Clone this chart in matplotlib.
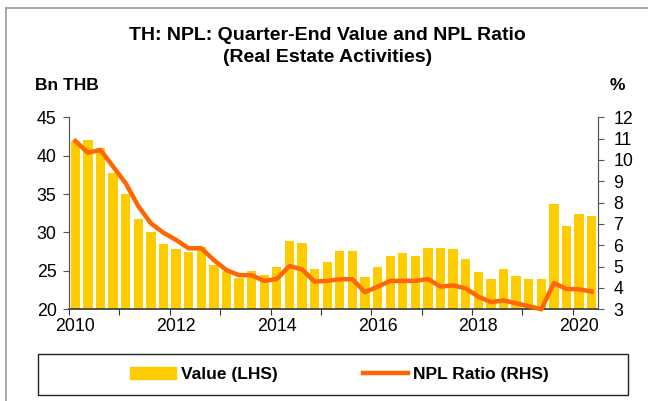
import numpy as np
import matplotlib
matplotlib.use('Agg')
import matplotlib.pyplot as plt
from matplotlib.lines import Line2D
from matplotlib.patches import Rectangle

plt.rcParams['font.family'] = ['Liberation Sans', 'DejaVu Sans']

# quarterly data 2010Q1 - 2020Q2
value = [41.9, 42.1, 41.0, 37.8, 35.0, 31.8, 30.0, 28.5, 27.8, 27.5, 28.1, 25.8,
         25.0, 24.1, 25.0, 24.5, 25.5, 28.9, 28.6, 25.25, 26.1, 27.6, 27.6, 24.2,
         25.5, 26.9, 27.3, 27.0, 28.0, 28.0, 27.8, 26.6, 24.9, 23.9, 25.2, 24.4,
         23.9, 24.0, 33.7, 30.9, 32.4, 32.1]
npl_ratio = [10.89, 10.34, 10.47, 9.69, 8.91, 7.84, 7.03, 6.59, 6.25, 5.86, 5.86, 5.31,
             4.84, 4.6, 4.6, 4.33, 4.42, 5.03, 4.87, 4.30, 4.33, 4.41, 4.41, 3.80,
             4.06, 4.33, 4.33, 4.33, 4.42, 4.06, 4.12, 3.98, 3.59, 3.34, 3.42, 3.28,
             3.15, 3.0, 4.23, 3.95, 3.94, 3.83]
year_labels = ['2010', '2012', '2014', '2016', '2018', '2020']

W, H = 648, 401
fig = plt.figure(figsize=(W / 100, H / 100), dpi=100)
ax = fig.add_axes([69 / W, 1 - 309.3 / H, (598 - 69) / W, (309.3 - 117.3) / H])

x = np.arange(len(value))
ax.bar(x, value, width=0.74, color='#FFCC00', zorder=2)
ax.set_xlim(-0.5, len(value) - 0.5)
ax.set_ylim(20, 45)
ax.set_yticks(np.arange(20, 46, 5))

# year boundary ticks (no labels), labels under Q1 bars
ax.set_xticks(np.arange(-0.5, len(value), 4))
ax.set_xticklabels([])
ax.set_xticks(np.arange(0, len(value), 8), minor=True)
ax.set_xticklabels(year_labels, minor=True)
ax.tick_params(axis='x', which='major', direction='out', length=4, color='#333333')
ax.tick_params(axis='x', which='minor', length=0, pad=6, labelsize=12.8)
ax.tick_params(axis='y', direction='out', length=4, pad=5, labelsize=12.8, color='#555555')

ax.spines['top'].set_visible(False)
ax.spines['left'].set_color('#555555')
ax.spines['right'].set_color('#555555')
ax.spines['bottom'].set_color('#333333')
ax.spines['bottom'].set_linewidth(1.2)
ax.spines['bottom'].set_zorder(3)

ax2 = ax.twinx()
ax2.plot(x, npl_ratio, color='#FF6600', linewidth=3.2, solid_joinstyle='round',
         clip_on=False, zorder=4)
ax2.set_ylim(3, 12)
ax2.set_yticks(np.arange(3, 13, 1))
ax2.tick_params(axis='y', direction='out', length=4, pad=7, labelsize=12.8, color='#555555')
ax2.spines['top'].set_visible(False)
ax2.spines['left'].set_color('#555555')
ax2.spines['right'].set_color('#555555')
ax2.spines['bottom'].set_visible(False)

# titles and unit labels
fig.text(327.5 / W, 1 - 35 / H, 'TH: NPL: Quarter-End Value and NPL Ratio',
         ha='center', va='center', fontsize=14, fontweight='bold')
fig.text(327.5 / W, 1 - 58 / H, '(Real Estate Activities)',
         ha='center', va='center', fontsize=14, fontweight='bold')
fig.text(35 / W, 1 - 86 / H, 'Bn THB', ha='left', va='center', fontsize=12.5, fontweight='bold')
fig.text(617 / W, 1 - 86 / H, '%', ha='center', va='center', fontsize=12.5, fontweight='bold')

# outer frame (top and left edges visible)
fig.add_artist(Line2D([6 / W, 6 / W], [0, 1 - 8 / H], color='#999999', linewidth=1.2))
fig.add_artist(Line2D([6 / W, 1], [1 - 8 / H, 1 - 8 / H], color='#999999', linewidth=1.2))

# legend box
fig.add_artist(Rectangle((38 / W, 1 - 395 / H), (628 - 38) / W, (395 - 354) / H,
                         transform=fig.transFigure, fill=False, edgecolor='#222222',
                         linewidth=1.0))
handles = [Rectangle((0, 0), 1, 1, color='#FFCC00'),
           Line2D([0], [0], color='#FF6600', linewidth=3.2)]
leg = fig.legend(handles, ['Value (LHS)', 'NPL Ratio (RHS)'], loc='center',
                 bbox_to_anchor=(339.5 / W, 1 - 374.5 / H), ncol=2, frameon=False,
                 handlelength=2.6, handletextpad=0.3, columnspacing=4.9,
                 prop={'size': 12.5, 'weight': 'bold'})

fig.savefig('out.png', dpi=100)
